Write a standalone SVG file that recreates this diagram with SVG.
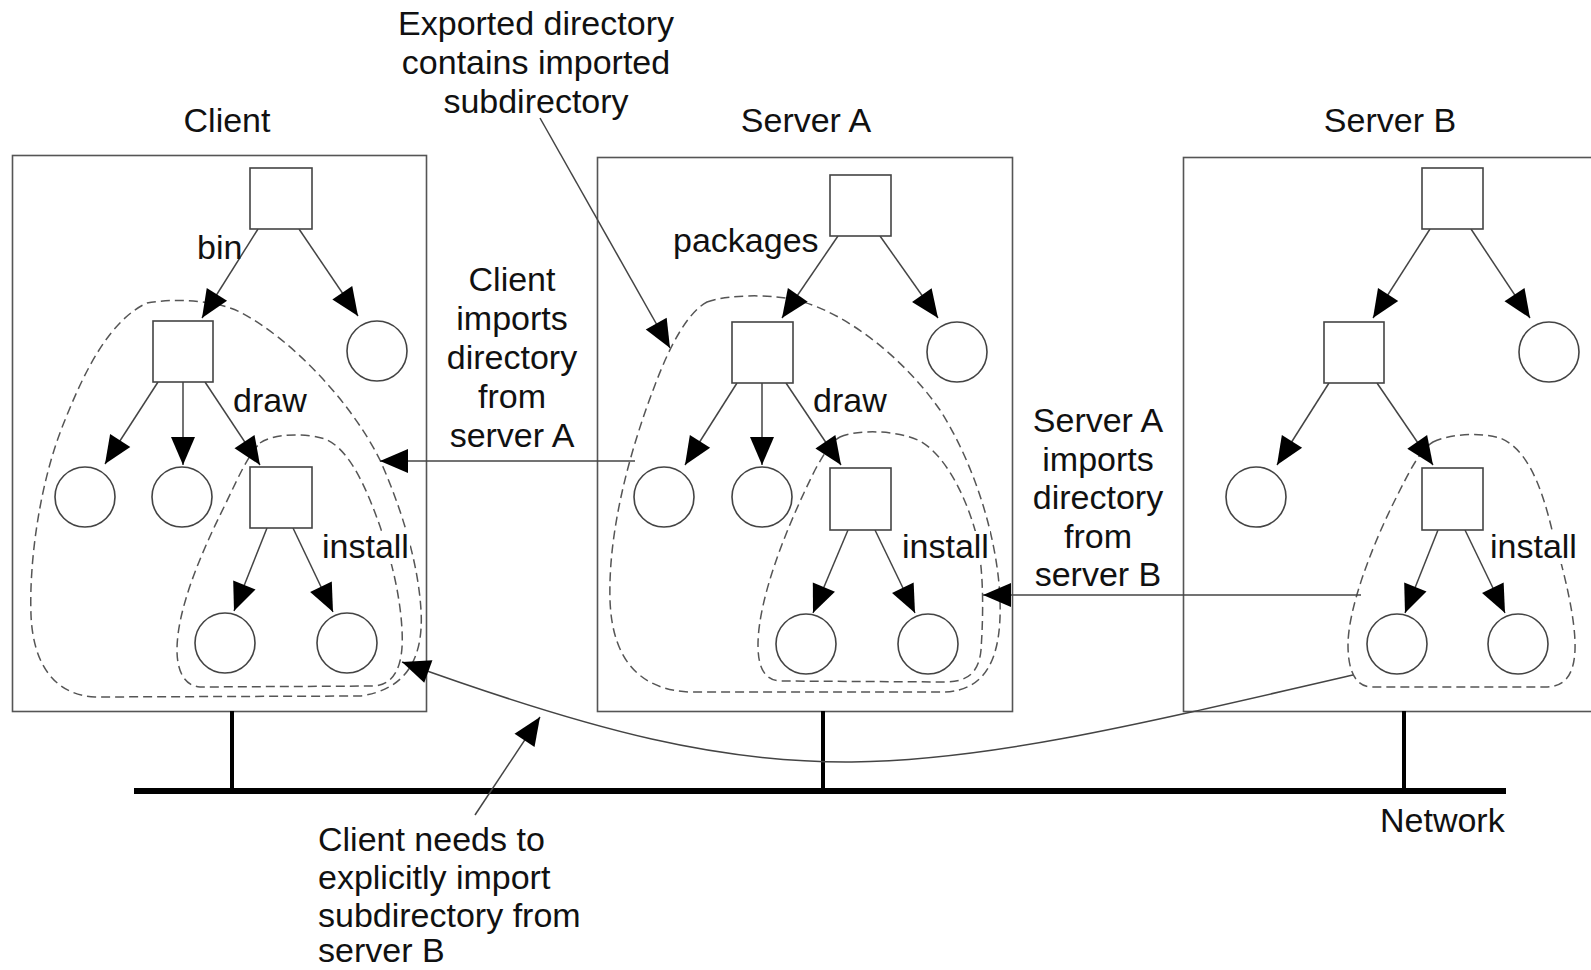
<svg xmlns="http://www.w3.org/2000/svg" width="1591" height="970" viewBox="0 0 1591 970">
<style>
.box{fill:none;stroke:#555;stroke-width:1.6}
.nd{fill:#fff;stroke:#444;stroke-width:1.6}
.ln{fill:none;stroke:#444;stroke-width:1.5;marker-end:url(#ah)}
.dash{fill:none;stroke:#555;stroke-width:1.5;stroke-dasharray:9 5}
.t{font-family:"Liberation Sans",Arial,sans-serif;font-size:34px;fill:#111}
.c{text-anchor:middle}
.bg{fill:#fff}
.stub{stroke:#000;stroke-width:4}
</style>
<defs>
<marker id="ah" markerUnits="userSpaceOnUse" markerWidth="30" markerHeight="26" viewBox="0 0 30 26" refX="28" refY="12" orient="auto" overflow="visible"><path d="M0,0 L28,12 L0,24 Z" fill="#000"/></marker>
</defs>
<rect width="1591" height="970" fill="#fff"/>

<g id="hosts">
<rect class="box" x="12.5" y="155.5" width="414" height="556"/>
<rect class="box" x="597.5" y="157.5" width="415" height="554"/>
<rect class="box" x="1183.5" y="157.5" width="430" height="554"/>
</g>

<g id="network">
<line class="stub" x1="232" y1="711" x2="232" y2="790"/>
<line class="stub" x1="823" y1="711" x2="823" y2="790"/>
<line class="stub" x1="1404" y1="711" x2="1404" y2="790"/>
<line x1="134" y1="791" x2="1506" y2="791" stroke="#000" stroke-width="6"/>
</g>

<g id="regions">
<path class="dash" d="M147,303 C175,298 215,300 240,312 C290,338 350,400 380,460 C400,505 418,560 421,610 C424,660 405,690 360,696 L95,697 C55,695 33,665 31,615 C29,560 40,480 65,420 C85,370 110,320 147,303 Z"/>
<path class="dash" d="M260,443 C275,433 305,433 325,439 C345,447 360,475 372,505 C388,545 400,590 402,630 C404,665 395,684 375,686 L200,687 C185,686 177,672 177,650 C177,610 200,555 225,505 C238,478 248,455 260,443 Z"/>
<path class="dash" d="M707,302 C730,294 775,294 800,301 C850,315 905,360 940,410 C975,465 998,540 1000,600 C1002,660 985,690 945,692 L690,692 C640,690 612,660 610,600 C608,530 630,450 655,385 C670,345 688,312 707,302 Z"/>
<path class="dash" d="M840,437 C855,430 895,429 920,441 C945,455 965,495 975,530 C985,570 983,620 981,650 C979,672 968,682 945,682 L780,681 C763,680 758,665 758,645 C758,600 785,530 815,470 C825,452 832,441 840,437 Z"/>
<path class="dash" d="M1433,442 C1450,434 1480,432 1500,438 C1525,448 1540,480 1552,530 C1565,575 1576,620 1575,650 C1574,675 1565,687 1545,687 L1372,687 C1355,687 1348,670 1348,645 C1348,610 1370,550 1395,500 C1410,470 1420,450 1433,442 Z"/>
</g>

<g id="connectors">
<!-- client tree -->
<line class="ln" x1="258" y1="229" x2="202" y2="318"/>
<line class="ln" x1="299" y1="229" x2="358" y2="316"/>
<line class="ln" x1="158" y1="382" x2="105" y2="464"/>
<line class="ln" x1="183" y1="382" x2="183" y2="465"/>
<line class="ln" x1="205" y1="382" x2="260" y2="465"/>
<line class="ln" x1="267" y1="528" x2="234" y2="611"/>
<line class="ln" x1="293" y1="528" x2="333" y2="612"/>
<!-- server A tree -->
<line class="ln" x1="838" y1="236" x2="782" y2="318"/>
<line class="ln" x1="880" y1="236" x2="938" y2="318"/>
<line class="ln" x1="737" y1="383" x2="685" y2="465"/>
<line class="ln" x1="762" y1="383" x2="762" y2="465"/>
<line class="ln" x1="786" y1="383" x2="841" y2="465"/>
<line class="ln" x1="848" y1="530" x2="813" y2="613"/>
<line class="ln" x1="875" y1="530" x2="915" y2="613"/>
<!-- server B tree -->
<line class="ln" x1="1430" y1="229" x2="1373" y2="318"/>
<line class="ln" x1="1471" y1="229" x2="1530" y2="318"/>
<line class="ln" x1="1329" y1="383" x2="1277" y2="465"/>
<line class="ln" x1="1377" y1="383" x2="1433" y2="465"/>
<line class="ln" x1="1438" y1="530" x2="1405" y2="613"/>
<line class="ln" x1="1465" y1="530" x2="1505" y2="613"/>
<!-- annotations -->
<line class="ln" x1="540" y1="118" x2="670" y2="348"/>
<line class="ln" x1="635" y1="461" x2="380" y2="461"/>
<line class="ln" x1="1361" y1="595" x2="983" y2="595"/>
<path class="ln" d="M1353,675 C895,781 797,805 402,662"/>
<line class="ln" x1="475" y1="815" x2="540" y2="717"/>
</g>

<g id="client-tree">
<rect id="c-root" class="nd" x="250" y="168" width="62" height="61"/>
<rect id="c-bin" class="nd" x="153" y="321" width="60" height="61"/>
<circle id="c-f1" class="nd" cx="377" cy="351" r="30"/>
<circle id="c-f2" class="nd" cx="85" cy="497" r="30"/>
<circle id="c-f3" class="nd" cx="182" cy="497" r="30"/>
<rect id="c-draw" class="nd" x="250" y="467" width="62" height="61"/>
<circle id="c-f4" class="nd" cx="225" cy="643" r="30"/>
<circle id="c-f5" class="nd" cx="347" cy="643" r="30"/>
</g>
<g id="a-tree">
<rect id="a-root" class="nd" x="830" y="175" width="61" height="61"/>
<rect id="a-pkg" class="nd" x="732" y="322" width="61" height="61"/>
<circle id="a-f1" class="nd" cx="957" cy="352" r="30"/>
<circle id="a-f2" class="nd" cx="664" cy="497" r="30"/>
<circle id="a-f3" class="nd" cx="762" cy="497" r="30"/>
<rect id="a-draw" class="nd" x="830" y="468" width="61" height="62"/>
<circle id="a-f4" class="nd" cx="806" cy="644" r="30"/>
<circle id="a-f5" class="nd" cx="928" cy="644" r="30"/>
</g>
<g id="b-tree">
<rect id="b-root" class="nd" x="1422" y="168" width="61" height="61"/>
<rect id="b-sub" class="nd" x="1324" y="322" width="60" height="61"/>
<circle id="b-f1" class="nd" cx="1549" cy="352" r="30"/>
<circle id="b-f2" class="nd" cx="1256" cy="497" r="30"/>
<rect id="b-draw" class="nd" x="1422" y="468" width="61" height="62"/>
<circle id="b-f4" class="nd" cx="1397" cy="644" r="30"/>
<circle id="b-f5" class="nd" cx="1518" cy="644" r="30"/>
</g>

<g id="labels">
<text class="t c" x="227" y="132">Client</text>
<text class="t c" x="806" y="132">Server A</text>
<text class="t c" x="1390" y="132">Server B</text>
<text class="t c" x="536"><tspan x="536" y="35">Exported directory</tspan><tspan x="536" y="74">contains imported</tspan><tspan x="536" y="113">subdirectory</tspan></text>
<text class="t c" x="512"><tspan x="512" y="291">Client</tspan><tspan x="512" y="330">imports</tspan><tspan x="512" y="369">directory</tspan><tspan x="512" y="408">from</tspan><tspan x="512" y="447">server A</tspan></text>
<text class="t c" x="1098"><tspan x="1098" y="432">Server A</tspan><tspan x="1098" y="470.5">imports</tspan><tspan x="1098" y="509">directory</tspan><tspan x="1098" y="547.5">from</tspan><tspan x="1098" y="586">server B</tspan></text>
<text class="t" x="318"><tspan x="318" y="851">Client needs to</tspan><tspan x="318" y="889">explicitly import</tspan><tspan x="318" y="927">subdirectory from</tspan><tspan x="318" y="962">server B</tspan></text>
<text class="t" x="1380" y="832">Network</text>
<text class="t" x="197" y="259">bin</text>
<text class="t" x="233" y="412">draw</text>
<rect class="bg" x="320" y="531" width="90" height="33"/>
<text class="t" x="322" y="558">install</text>
<text class="t" x="673" y="252">packages</text>
<text class="t" x="813" y="412">draw</text>
<rect class="bg" x="900" y="531" width="90" height="33"/>
<text class="t" x="902" y="558">install</text>
<rect class="bg" x="1488" y="531" width="90" height="33"/>
<text class="t" x="1490" y="558">install</text>
</g>
</svg>
